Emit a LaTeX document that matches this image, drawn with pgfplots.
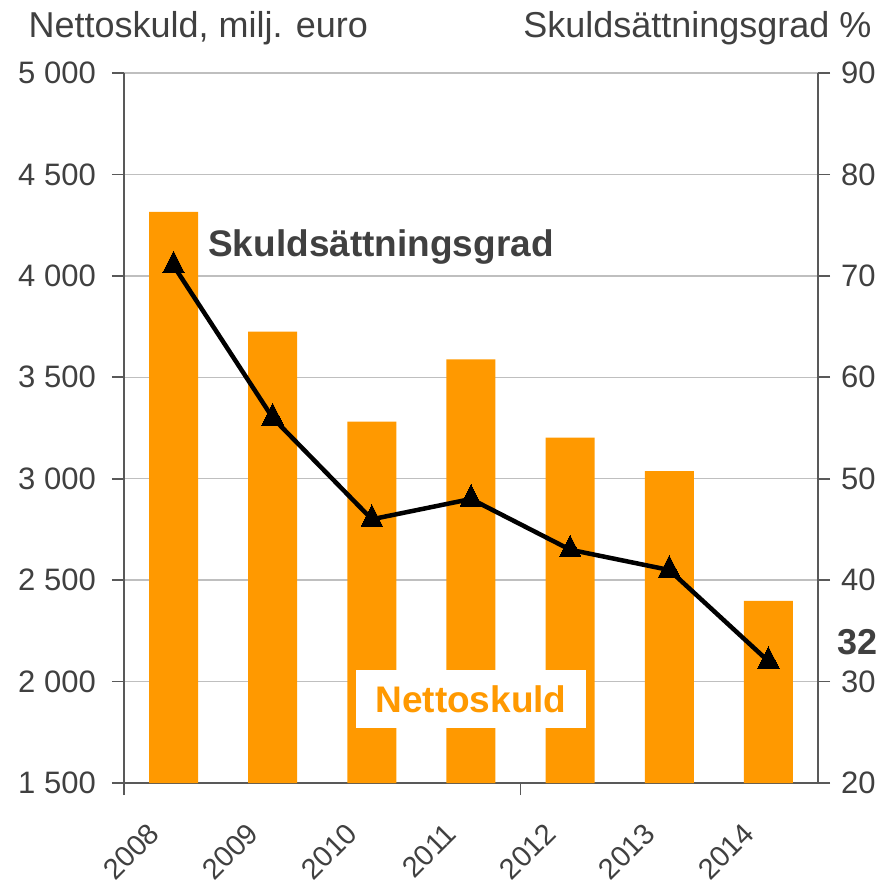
\documentclass[border=0pt]{standalone}
\usepackage{fontspec}
\setmainfont{Liberation Sans}
\usepackage{pgfplots}
\pgfplotsset{compat=1.18}
\definecolor{org}{HTML}{FF9900}
\definecolor{txt}{HTML}{404040}
\definecolor{axl}{HTML}{595959}
\definecolor{grd}{HTML}{BFBFBF}
\begin{document}
\begin{tikzpicture}[x=1pt,y=1pt]
\pgfplotsset{
  every axis/.append style={font=\fontsize{31}{36}\selectfont, text=txt},
  every tick label/.append style={text=txt},
}
\begin{axis}[
  at={(0,0)}, anchor=south west,
  scale only axis, width=694pt, height=710pt,
  xmin=-0.5, xmax=6.5, ymin=1500, ymax=5000,
  axis x line*=bottom, axis y line*=left,
  axis line style={axl, line width=1.6pt},
  xtick={-0.5,3.5}, xticklabels={},
  extra x ticks={0,1,2,3,4,5,6},
  extra x tick labels={2008,2009,2010,2011,2012,2013,2014},
  extra x tick style={major tick length=0pt, grid=none,
    xticklabel style={font=\fontsize{29}{34}\selectfont, xshift=-27pt, yshift=-38pt, rotate=45, anchor=north east, inner sep=0pt}},
  ytick={1500,2000,2500,3000,3500,4000,4500,5000},
  yticklabels={1 500,2 000,2 500,3 000,3 500,4 000,4 500,5 000},
  tick align=outside, major tick length=12pt,
  tick style={axl, line width=1.6pt},
  ymajorgrids, grid style={grd, line width=1.4pt},
  yticklabel style={inner sep=2pt, xshift=-14pt},
  clip=false,
]
\addplot[ybar, bar width=49pt, fill=org, draw=none] coordinates {
  (0,4315) (1,3725) (2,3282) (3,3588) (4,3202) (5,3038) (6,2398)
};
\draw[axl, line width=1.6pt] ([xshift=-12pt]rel axis cs:0,0) -- (rel axis cs:0,0);
\node[anchor=base, font=\bfseries\fontsize{37}{42}\selectfont, text=txt] at (axis cs:2.092,4093) {Skuldsättningsgrad};
\node[fill=white, font=\bfseries\fontsize{37}{42}\selectfont, text=org, minimum width=230pt, minimum height=58pt, inner sep=0pt] at (axis cs:3.0,1914) {Nettoskuld};
\end{axis}
\begin{axis}[
  at={(0,0)}, anchor=south west,
  scale only axis, width=694pt, height=710pt,
  xmin=-0.5, xmax=6.5, ymin=20, ymax=90,
  axis x line=none, axis y line*=right,
  axis line style={axl, line width=1.6pt},
  ytick={20,30,40,50,60,70,80,90},
  tick align=outside, major tick length=12pt,
  tick style={axl, line width=1.6pt},
  /pgf/number format/assume math mode=true,
  yticklabel style={inner sep=2pt, xshift=9pt},
  clip=false,
]
\addplot[black, line width=4.5pt, mark=triangle*, mark size=12.5pt, mark options={solid, fill=black, line width=0pt, yscale=1.15}] coordinates {
  (0,71) (1,56) (2,46) (3,48) (4,43) (5,41) (6,32)
};
\node[font=\bfseries\fontsize{36}{40}\selectfont, text=txt] at (axis cs:6.90,33.9) {32};
\end{axis}
\node[anchor=base west, font=\fontsize{36}{40}\selectfont, text=txt] at (-99,745) {Nettoskuld, milj. euro};
\node[anchor=base east, font=\fontsize{36}{40}\selectfont, text=txt] at (751,745) {Skuldsättningsgrad \%};
\pgfresetboundingbox
\path[use as bounding box] (-124,-104) rectangle (759,783);
\end{tikzpicture}
\end{document}
